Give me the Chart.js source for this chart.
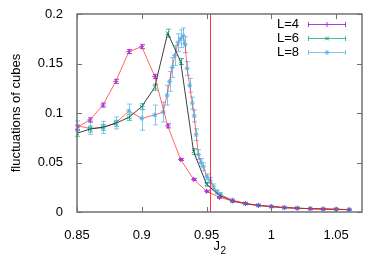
<!DOCTYPE html>
<html><head><meta charset="utf-8">
<script src="https://cdn.jsdelivr.net/npm/chart.js@4/dist/chart.umd.min.js"></script>
<style>html,body{margin:0;padding:0;background:#fff}#wrap{width:387px;height:271px}</style>
</head><body><div id="wrap"><canvas id="c" width="387" height="271"></canvas></div>
<script>
const xTicks = [0.85, 0.9, 0.95, 1, 1.05];
const yTicks = [0, 0.05, 0.1, 0.15, 0.2];
const criticalJ2 = 0.9527;
const xTitleMain = 'J';
const xTitleSub = '2';

const L4x = [0.85,0.86,0.87,0.88,0.89,0.90,0.91,0.92,0.93,0.94,0.95,0.96,0.97,0.98,0.99,1.00,1.01,1.02,1.03,1.04,1.05,1.06];
const L4y = [0.0856,0.093,0.108,0.132,0.162,0.167,0.137,0.087,0.053,0.033,0.021,0.0148,0.0112,0.0085,0.0066,0.0054,0.0044,0.0038,0.0033,0.0030,0.0027,0.0024];
const L4e = [0.002,0.002,0.002,0.002,0.002,0.002,0.002,0.002,0.001,0.001,0.001,0.001,0.0008,0.0006,0.0005,0.0005,0.0004,0.0004,0.0003,0.0003,0.0003,0.0003];

const L6x = [0.85,0.86,0.87,0.88,0.89,0.90,0.91,0.92,0.93,0.94,0.95,0.96,0.97,0.98,0.99,1.00,1.01,1.02,1.03,1.04,1.05,1.06];
const L6y = [0.0795,0.0838,0.0855,0.0896,0.0956,0.1064,0.126,0.1807,0.152,0.061,0.028,0.0168,0.011,0.0084,0.0066,0.0055,0.0045,0.0038,0.0034,0.0030,0.0027,0.0024];
const L6e = [0.003,0.003,0.003,0.003,0.003,0.003,0.003,0.004,0.003,0.003,0.002,0.0015,0.001,0.0008,0.0006,0.0005,0.0004,0.0004,0.0003,0.0003,0.0003,0.0003];

const L8x = [0.85,0.86,0.87,0.88,0.89,0.90,0.91,0.9165,0.9195,0.9215,0.9235,0.9255,0.928,0.930,0.932,0.9335,0.935,0.937,0.939,0.9405,0.942,0.9437,0.9457,0.9476,0.9502,0.9528,0.9553,0.958,0.9605,0.97,0.98,0.99,1.00,1.01,1.02,1.03,1.04,1.05,1.06];
const L8y = [0.087,0.0845,0.0855,0.090,0.102,0.0946,0.098,0.101,0.118,0.132,0.146,0.158,0.171,0.175,0.178,0.169,0.145,0.128,0.110,0.097,0.078,0.058,0.050,0.0456,0.0355,0.032,0.0253,0.0203,0.0176,0.012,0.0087,0.0068,0.0055,0.0045,0.0038,0.0034,0.0030,0.0027,0.0024];
const L8e = [0.005,0.006,0.006,0.006,0.007,0.012,0.010,0.010,0.010,0.010,0.010,0.010,0.009,0.009,0.008,0.008,0.007,0.007,0.006,0.006,0.006,0.005,0.004,0.004,0.003,0.003,0.003,0.002,0.002,0.0012,0.001,0.0008,0.0006,0.0005,0.0005,0.0004,0.0004,0.0003,0.0003];

const series = [
  {label:'L=4', x:L4x, y:L4y, e:L4e, color:'#b030e0', bar:'rgba(148,0,211,0.75)', line:'rgba(255,40,40,0.7)', style:'cross'},
  {label:'L=6', x:L6x, y:L6y, e:L6e, color:'#009e73', bar:'rgba(0,158,115,0.7)', line:'rgba(30,30,30,0.85)', style:'crossRot'},
  {label:'L=8', x:L8x, y:L8y, e:L8e, color:'#56b4e9', bar:'rgba(86,180,233,0.75)', line:'rgba(255,40,40,0.7)', style:'star'}
];

const FONT = 'Liberation Sans, Arial, sans-serif';

const frame = {
  id:'frame',
  beforeDatasetsDraw(chart){
    const {ctx, scales:{x,y}} = chart;
    ctx.save();
    series.forEach(s=>{
      ctx.strokeStyle = s.bar; ctx.lineWidth = 1;
      s.x.forEach((xv,k)=>{
        const px = Math.round(x.getPixelForValue(xv))+0.5;
        const y1 = y.getPixelForValue(s.y[k]-s.e[k]);
        const y2 = y.getPixelForValue(s.y[k]+s.e[k]);
        ctx.beginPath();
        ctx.moveTo(px,y1); ctx.lineTo(px,y2);
        ctx.moveTo(px-2.5,y1); ctx.lineTo(px+2.5,y1);
        ctx.moveTo(px-2.5,y2); ctx.lineTo(px+2.5,y2);
        ctx.stroke();
      });
    });
    ctx.restore();
  },
  afterDraw(chart){
    const {ctx, scales:{x,y}, chartArea:a} = chart;
    ctx.save();
    const vx = Math.round(x.getPixelForValue(criticalJ2))+0.5;
    ctx.strokeStyle = 'rgba(255,0,0,0.8)'; ctx.lineWidth = 1;
    ctx.beginPath(); ctx.moveTo(vx,a.top); ctx.lineTo(vx,a.bottom); ctx.stroke();
    ctx.strokeStyle = '#707070'; ctx.lineWidth = 1.5;
    ctx.strokeRect(a.left, a.top, a.right-a.left, a.bottom-a.top);
    ctx.lineWidth = 1;
    ctx.beginPath();
    xTicks.forEach(v=>{
      const p = Math.round(x.getPixelForValue(v))+0.5;
      ctx.moveTo(p,a.bottom); ctx.lineTo(p,a.bottom-5);
      ctx.moveTo(p,a.top); ctx.lineTo(p,a.top+5);
    });
    yTicks.forEach(v=>{
      const p = Math.round(y.getPixelForValue(v))+0.5;
      ctx.moveTo(a.left,p); ctx.lineTo(a.left+5,p);
      ctx.moveTo(a.right,p); ctx.lineTo(a.right-5,p);
    });
    ctx.stroke();
    // x title with subscript
    ctx.fillStyle = '#000';
    ctx.textBaseline = 'alphabetic';
    ctx.font = '13px ' + FONT;
    ctx.textAlign = 'right';
    const cx = (a.left + a.right)/2 + 0.5;
    ctx.fillText(xTitleMain, cx, 250);
    ctx.font = '10px ' + FONT;
    ctx.textAlign = 'left';
    ctx.fillText(xTitleSub, cx + 0.5, 254);
    // legend
    ctx.font = '13px ' + FONT;
    ctx.textAlign = 'right'; ctx.textBaseline = 'middle';
    series.forEach((s,i)=>{
      const ly = 24 + 14*i + 0.5;
      ctx.fillStyle = '#000';
      ctx.fillText(s.label, 299, ly);
      ctx.strokeStyle = s.bar; ctx.lineWidth = 1;
      ctx.beginPath();
      ctx.moveTo(308,ly); ctx.lineTo(346,ly);
      ctx.moveTo(308.5,ly-2.5); ctx.lineTo(308.5,ly+2.5);
      ctx.moveTo(345.5,ly-2.5); ctx.lineTo(345.5,ly+2.5);
      ctx.stroke();
      ctx.strokeStyle = s.color; ctx.fillStyle = s.color;
      Chart.helpers.drawPoint(ctx, {pointStyle:s.style, radius:2.5, borderWidth:1}, 327, ly);
    });
    ctx.restore();
  }
};

new Chart(document.getElementById('c'), {
  type:'scatter',
  data:{datasets: series.map(s=>({
    label:s.label,
    data:s.x.map((v,k)=>({x:v,y:s.y[k]})),
    showLine:true,
    borderColor:s.line,
    borderWidth:1,
    pointStyle:s.style,
    pointRadius:2.5,
    pointBorderColor:s.color,
    pointBackgroundColor:s.color,
    pointBorderWidth:1,
    tension:0
  }))},
  options:{
    responsive:false,
    animation:false,
    devicePixelRatio:1,
    layout:{padding:{left:0,right:25,top:14,bottom:0}},
    plugins:{legend:{display:false},tooltip:{enabled:false}},
    scales:{
      x:{type:'linear',min:0.85,max:1.07,
        afterBuildTicks(s){s.ticks = xTicks.map(v=>({value:v}));},
        afterFit(s){s.height = 59;},
        grid:{display:false}, border:{display:false},
        ticks:{padding:8,color:'#000',font:{family:FONT,size:13},maxRotation:0,
          callback:v=>String(+v.toFixed(2))},
        title:{display:false}
      },
      y:{type:'linear',min:0,max:0.2,
        afterBuildTicks(s){s.ticks = yTicks.map(v=>({value:v}));},
        afterFit(s){s.width = 77;},
        grid:{display:false}, border:{display:false},
        ticks:{padding:6,color:'#000',font:{family:FONT,size:13},
          callback:v=>String(+v.toFixed(2))},
        title:{display:true,text:'fluctuations of cubes',color:'#000',font:{family:FONT,size:13},padding:{top:9,bottom:0}}
      }
    }
  },
  plugins:[frame]
});
</script>
</body></html>
